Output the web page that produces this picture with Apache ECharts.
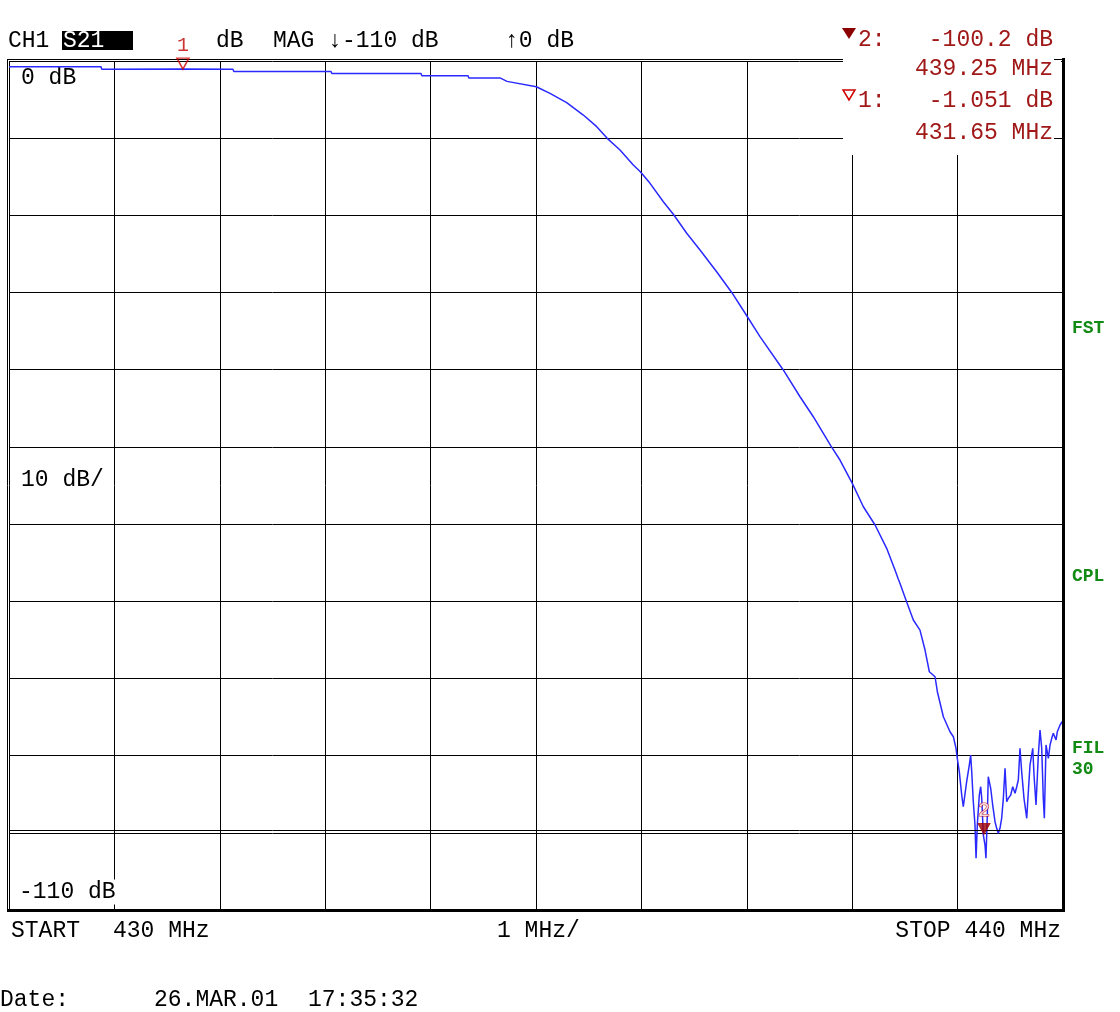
<!DOCTYPE html>
<html><head><meta charset="utf-8">
<script src="https://cdn.jsdelivr.net/npm/echarts@6/dist/echarts.min.js"></script>
<style>html,body{margin:0;padding:0;background:#fff}#c{width:1120px;height:1012px}</style>
</head><body><div id="c"></div>
<script>
// ---- data ----
const freqMHz = [
  430.000,430.873,430.880,431.650,432.125,432.133,433.055,433.063,433.909,433.917,
  434.355,434.363,434.554,434.658,434.725,435.003,435.133,435.291,435.449,435.576,
  435.676,435.797,435.923,435.990,436.082,436.208,436.303,436.430,436.556,436.714,
  436.857,436.995,437.125,437.346,437.505,437.631,437.796,437.884,438.001,438.106,
  438.217,438.327,438.406,438.437,438.453,438.510,438.580,438.643,438.691,438.732,
  438.786,438.808,438.865,438.928,438.960,438.985,438.997,439.016,
  439.039,439.054,439.070,439.086,439.111,439.124,439.134,439.149,439.165,439.175,
  439.187,439.206,439.219,439.229,439.244,439.260,439.269,439.282,439.291,439.314,
  439.333,439.355,439.371,439.386,439.402,439.418,439.434,439.450,439.466,439.481,
  439.504,439.523,439.545,439.561,439.576,439.592,439.608,439.630,439.656,439.671,
  439.687,439.713,439.725,439.744,439.766,439.782,439.798,439.813,439.823,439.839,
  439.861,439.877,439.893,439.908,439.934,439.946,439.972,439.997
];
const s21dB = [
  -0.75,-0.75,-1.08,-1.05,-1.08,-1.35,-1.35,-1.63,-1.63,-1.90,
  -1.90,-2.19,-2.19,-2.19,-2.64,-3.33,-4.19,-5.40,-7.00,-8.51,
  -10.02,-11.53,-13.48,-14.34,-15.85,-18.23,-19.86,-22.32,-24.49,-27.30,
  -29.99,-32.91,-35.72,-40.03,-43.50,-46.09,-49.84,-51.70,-54.72,-57.75,
  -60.12,-63.14,-65.95,-67.12,-67.67,-69.84,-72.43,-73.73,-76.32,-79.13,
  -79.78,-81.72,-84.96,-86.90,-87.55,-89.05,-90.35,-92.08,
  -95.10,-96.62,-96.40,-93.38,-91.22,-89.92,-92.08,-95.97,-98.99,-103.30,
  -98.99,-95.10,-94.03,-95.53,-100.28,-101.58,-103.30,-97.69,-92.73,-94.23,
  -96.40,-98.56,-99.42,-100.06,-99.42,-98.12,-95.53,-91.64,-95.97,-95.53,
  -95.10,-94.03,-94.88,-94.03,-93.16,-89.05,-92.08,-95.53,-98.12,-94.67,
  -91.22,-89.05,-92.51,-96.40,-89.92,-86.68,-89.05,-95.53,-98.12,-88.62,
  -90.35,-88.62,-87.76,-87.11,-87.97,-86.90,-86.03,-85.51
];
const markerFreq = [431.65, 439.25];
const markerDb = [-1.051, -100.2];
const markerNames = ['1', '2'];
const markerFreqText = ['431.65 MHz', '439.25 MHz'];
const markerDbText = ['-1.051 dB', '-100.2 dB'];
const xRange = [430, 440];
const yRange = [-110, 0];
const headerTexts = ['CH1', 'S21', 'dB', 'MAG ↓-110 dB', '↑0 dB'];
const scaleTexts = ['0 dB', '10 dB/', '-110 dB'];
const footerTexts = ['START', '430 MHz', '1 MHz/', 'STOP 440 MHz'];
const sideTexts = ['FST', 'CPL', 'FIL', '30'];
const dateTexts = ['Date:', '26.MAR.01', '17:35:32'];

// ---- chart ----
const FONT = "'Liberation Mono','DejaVu Sans Mono',monospace";
const FS = 23;
const RED = '#a01818';
const GREEN = '#138a13';
const chart = echarts.init(document.getElementById('c'), null, {renderer: 'canvas'});

function txt(text, x, y, opt) {
  return {
    type: 'text', z: (opt && opt.z) || 20,
    style: Object.assign({
      text: text, x: x, y: y, font: 'normal ' + FS + 'px ' + FONT,
      fill: '#000', verticalAlign: 'middle', align: 'left'
    }, (opt && opt.style) || {})
  };
}
function ln(x1, y1, x2, y2, w, z) {
  return {type: 'line', z: z || 10, shape: {x1, y1, x2, y2},
          style: {stroke: '#000', lineWidth: w || 1}};
}

const graphics = [
  // white marker-info area hiding the grid
  {type: 'rect', z: 5, shape: {x: 843, y: 50, width: 218, height: 105}, style: {fill: '#fff'}},
  // borders
  ln(7, 59.5, 843, 59.5, 1),
  ln(7.5, 59, 7.5, 912, 1),
  ln(7, 910.5, 1065, 910.5, 3, 11),
  ln(1063.5, 58, 1063.5, 912, 3, 11),
  ln(1054, 59.5, 1063, 59.5, 1),
  ln(1054, 138.5, 1063, 138.5, 1),
  // reference line near -100 dB
  ln(9, 830.5, 1063, 830.5, 1),
  // header
  txt(headerTexts[0], 8, 41),
  {type: 'rect', z: 19, shape: {x: 62, y: 31, width: 71, height: 19}, style: {fill: '#000'}},
  txt(headerTexts[1], 63, 41, {style: {fill: '#fff'}}),
  txt(headerTexts[2], 216, 41),
  txt(headerTexts[3], 273, 41),
  txt(headerTexts[4], 505, 41),
  // marker info block
  {type: 'polygon', z: 20, shape: {points: [[842, 28], [856, 28], [849, 39]]}, style: {fill: '#8b0000'}},
  txt(markerNames[1] + ':', 858, 40, {style: {fill: RED}}),
  txt(markerDbText[1], 1053, 40, {style: {fill: RED, align: 'right'}}),
  txt(markerFreqText[1], 1053, 69, {style: {fill: RED, align: 'right'}}),
  {type: 'polygon', z: 20, shape: {points: [[843, 90], [855, 90], [849, 100]]},
   style: {fill: 'none', stroke: '#d00000', lineWidth: 1.5}},
  txt(markerNames[0] + ':', 858, 101, {style: {fill: RED}}),
  txt(markerDbText[0], 1053, 101, {style: {fill: RED, align: 'right'}}),
  txt(markerFreqText[0], 1053, 133, {style: {fill: RED, align: 'right'}}),
  // scale labels inside the grid (below the trace)
  txt(scaleTexts[0], 19, 78, {z: 6, style: {backgroundColor: '#fff', padding: [0, 2]}}),
  txt(scaleTexts[1], 19, 480, {z: 6, style: {backgroundColor: '#fff', padding: [1, 2]}}),
  txt(scaleTexts[2], 17, 892, {z: 6, style: {backgroundColor: '#fff', padding: [1, 2]}}),
  // side labels
  txt(sideTexts[0], 1072, 328, {style: {fill: GREEN, font: 'bold 18px ' + FONT}}),
  txt(sideTexts[1], 1072, 576, {style: {fill: GREEN, font: 'bold 18px ' + FONT}}),
  txt(sideTexts[2], 1072, 748, {style: {fill: GREEN, font: 'bold 18px ' + FONT}}),
  txt(sideTexts[3], 1072, 769, {style: {fill: GREEN, font: 'bold 18px ' + FONT}}),
  // footer
  txt(footerTexts[0], 11, 931),
  txt(footerTexts[1], 113, 931),
  txt(footerTexts[2], 497, 931),
  txt(footerTexts[3], 1061, 931, {style: {align: 'right'}}),
  txt(dateTexts[0], 0, 1000),
  txt(dateTexts[1], 154, 1000),
  txt(dateTexts[2], 308, 1000)
];

const option = {
  animation: false,
  backgroundColor: '#fff',
  grid: {left: 9, top: 61, width: 1054, height: 849, containLabel: false},
  xAxis: {
    type: 'value', min: xRange[0], max: xRange[1], interval: 1,
    axisLine: {show: false}, axisTick: {show: false}, axisLabel: {show: false},
    splitLine: {show: true, lineStyle: {color: '#000', width: 1}}
  },
  yAxis: {
    type: 'value', min: yRange[0], max: yRange[1], interval: 10,
    axisLine: {show: false}, axisTick: {show: false}, axisLabel: {show: false},
    splitLine: {show: true, lineStyle: {color: '#000', width: 1}}
  },
  series: [
    {
      type: 'line', z: 8, showSymbol: false, silent: true,
      data: freqMHz.map((f, i) => [f, s21dB[i]]),
      lineStyle: {color: '#2a2aff', width: 1.5},
      itemStyle: {color: '#2a2aff'}
    },
    {
      type: 'scatter', z: 30, silent: true,
      symbol: 'triangle', symbolRotate: 180, symbolSize: [12, 11], symbolOffset: [0, -5.5],
      data: markerFreq.map((f, i) => ({
        value: [f, markerDb[i]],
        itemStyle: i === 0
          ? {color: 'rgba(0,0,0,0)', borderColor: '#d00000', borderWidth: 1.5}
          : {color: '#a00000', borderColor: '#a00000', borderWidth: 1},
        label: {
          show: true, formatter: markerNames[i], position: 'top', distance: 2,
          fontFamily: FONT, fontSize: 20,
          color: i === 0 ? '#c00000' : '#fff',
          textBorderColor: i === 0 ? 'transparent' : '#c00000', textBorderWidth: i === 0 ? 0 : 1.2
        }
      }))
    }
  ],
  graphic: graphics
};
chart.setOption(option);
</script>
</body></html>
